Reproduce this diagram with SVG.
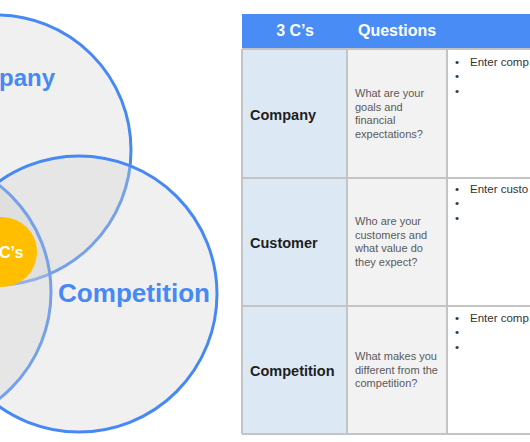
<svg xmlns="http://www.w3.org/2000/svg" width="530" height="442" viewBox="0 0 530 442">
<style>
.venn{fill:#d2d2d2;fill-opacity:0.33;stroke:#4689f5;stroke-width:3}
.vlabel{font-family:"Liberation Sans",Arial,sans-serif;font-weight:bold;fill:#4689f5}
.hdr{font-family:"Liberation Sans",Arial,sans-serif;font-weight:bold;font-size:16px;fill:#ffffff}
.c1{fill:#dde8f5}
.c2{fill:#f2f2f2}
.c3{fill:#ffffff}
.grid{stroke:#c4c4c4;stroke-width:2;fill:none}
.name{font-family:"Liberation Sans",Arial,sans-serif;font-weight:bold;font-size:14.5px;fill:#1e1e1e}
.q{font-family:"Liberation Sans",Arial,sans-serif;font-size:11px;fill:#5a5a5a}
.b{font-family:"Liberation Sans",Arial,sans-serif;font-size:11.5px;fill:#333333}
</style>
<rect width="530" height="442" fill="#ffffff"/>
<g id="venn">
  <g id="company-circle"><circle class="venn" cx="-4" cy="150" r="135"/></g>
  <g id="customer-circle"><circle class="venn" cx="-85" cy="292" r="136"/></g>
  <g id="competition-circle"><circle class="venn" cx="79" cy="294" r="138"/></g>
  <g id="center"><circle cx="2" cy="252" r="35" fill="#ffbf00"/>
    <text x="-1" y="258" font-family="Liberation Sans, Arial, sans-serif" font-weight="bold" font-size="16" fill="#ffffff">C’s</text></g>
  <text class="vlabel" x="-1" y="86" font-size="24">pany</text>
  <text class="vlabel" x="58" y="302" font-size="25" textLength="152" lengthAdjust="spacingAndGlyphs">Competition</text>
</g>
<g id="table">
  <g id="header">
    <rect x="242" y="14" width="288" height="35" fill="#4a8cf6"/>
    <text class="hdr" x="295" y="36" text-anchor="middle">3 C’s</text>
    <text class="hdr" x="358" y="36">Questions</text>
  </g>
  <g id="row-company">
    <rect class="c1" x="242" y="49" width="105" height="129"/>
    <rect class="c2" x="347" y="49" width="100" height="129"/>
    <rect class="c3" x="447" y="49" width="83" height="129"/>
    <text class="name" x="250" y="120">Company</text>
    <text class="q" x="355" y="97">What are your</text>
    <text class="q" x="355" y="110.5">goals and</text>
    <text class="q" x="355" y="124">financial</text>
    <text class="q" x="355" y="137.5">expectations?</text>
    <text class="b" x="455" y="66">•</text><text class="b" x="470" y="66">Enter comp</text>
    <text class="b" x="455" y="80">•</text>
    <text class="b" x="455" y="95">•</text>
  </g>
  <g id="row-customer">
    <rect class="c1" x="242" y="178" width="105" height="128"/>
    <rect class="c2" x="347" y="178" width="100" height="128"/>
    <rect class="c3" x="447" y="178" width="83" height="128"/>
    <text class="name" x="250" y="248">Customer</text>
    <text class="q" x="355" y="225">Who are your</text>
    <text class="q" x="355" y="238.5">customers and</text>
    <text class="q" x="355" y="252">what value do</text>
    <text class="q" x="355" y="265.5">they expect?</text>
    <text class="b" x="455" y="193">•</text><text class="b" x="470" y="193">Enter custo</text>
    <text class="b" x="455" y="207">•</text>
    <text class="b" x="455" y="222">•</text>
  </g>
  <g id="row-competition">
    <rect class="c1" x="242" y="306" width="105" height="128"/>
    <rect class="c2" x="347" y="306" width="100" height="128"/>
    <rect class="c3" x="447" y="306" width="83" height="128"/>
    <text class="name" x="250" y="376">Competition</text>
    <text class="q" x="355" y="360">What makes you</text>
    <text class="q" x="355" y="373.5">different from the</text>
    <text class="q" x="355" y="387">competition?</text>
    <text class="b" x="455" y="322">•</text><text class="b" x="470" y="322">Enter comp</text>
    <text class="b" x="455" y="336">•</text>
    <text class="b" x="455" y="351">•</text>
  </g>
  <g id="gridlines">
    <path class="grid" d="M242 49H530M242 178H530M242 306H530M242 434H530M242 49V434M347 49V434M447 49V434"/>
  </g>
</g>
</svg>
